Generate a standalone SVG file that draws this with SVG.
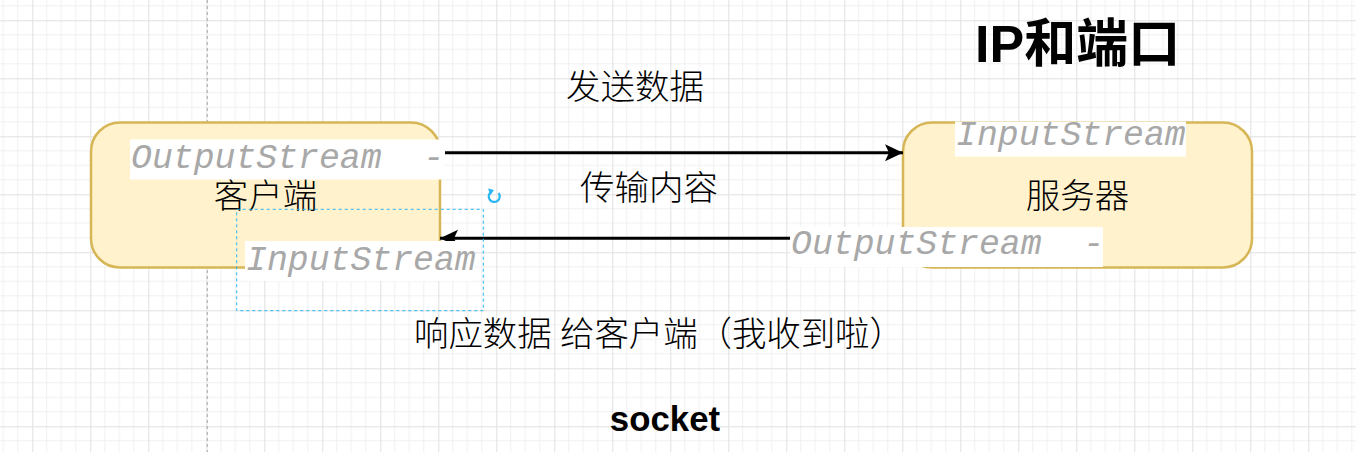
<svg xmlns="http://www.w3.org/2000/svg" width="1356" height="452" viewBox="0 0 1356 452">
<defs>
  <pattern id="grid" x="32.3" y="20.3" width="58" height="58" patternUnits="userSpaceOnUse">
    <path d="M14.5 0V58M29 0V58M43.5 0V58M0 14.5H58M0 29H58M0 43.5H58" stroke="#f0f0f0" stroke-width="1" fill="none"/>
    <path d="M0.5 0V58M0 0.5H58" stroke="#e0e0e0" stroke-width="1" fill="none"/>
  </pattern>
  <marker id="arrow" viewBox="0 0 20 20" refX="19" refY="10" markerWidth="20" markerHeight="20" markerUnits="userSpaceOnUse" orient="auto">
    <path d="M19 10 L1 1.5 L5 10 L1 18.5 Z" fill="#000"/>
  </marker>
  <style>
    .box{fill:#fff2cc;stroke:#d6b656;stroke-width:2.5}
    .conn{stroke:#000;stroke-width:3;fill:none}
    .cjk{font-family:"Liberation Serif","Noto Sans CJK SC",serif;font-size:34.5px;font-weight:300;fill:#000;text-anchor:middle;dominant-baseline:central}
    .mono{font-family:"Liberation Mono","Courier New",monospace;font-style:italic;font-size:34.8px;fill:#a8a8a8}
    .bg{fill:#fff}
    .bold{font-family:"Liberation Sans","Noto Sans CJK SC",sans-serif;font-weight:bold;fill:#000}
  </style>
</defs>
<rect width="1356" height="452" fill="#fff"/>
<rect width="1356" height="452" fill="url(#grid)"/>
<line x1="207.3" y1="0" x2="207.3" y2="452" stroke="#aaa" stroke-width="1" stroke-dasharray="3 3"/>

<g id="client">
  <rect class="box" x="91" y="122.5" width="349" height="145" rx="29" ry="29"/>
  <text class="cjk" x="265.5" y="196">客户端</text>
</g>
<g id="server">
  <rect class="box" x="903" y="122.5" width="349" height="145" rx="29" ry="29"/>
  <text class="cjk" x="1077.5" y="196">服务器</text>
</g>

<g id="connectors">
  <line class="conn" x1="440" y1="152.7" x2="903" y2="152.7" marker-end="url(#arrow)"/>
  <line class="conn" x1="903" y1="238.3" x2="440" y2="238.3" marker-end="url(#arrow)"/>
</g>

<g id="client-output">
  <rect class="bg" x="130" y="139.5" width="315" height="40"/>
  <text class="mono" x="131" y="168" xml:space="preserve">OutputStream  -</text>
</g>
<g id="client-input">
  <rect class="bg" x="245" y="241" width="230" height="40"/>
  <text class="mono" x="246" y="270">InputStream</text>
</g>
<g id="server-input">
  <rect class="bg" x="955" y="121.5" width="231" height="35"/>
  <text class="mono" x="956" y="145">InputStream</text>
</g>
<g id="server-output">
  <rect class="bg" x="790" y="227" width="313" height="40"/>
  <text class="mono" x="791" y="253.5" xml:space="preserve">OutputStream  -</text>
</g>

<g id="labels">
  <text class="cjk" x="635" y="87">发送数据</text>
  <text class="cjk" x="649" y="188">传输内容</text>
  <text class="cjk" x="659" y="334" textLength="490" lengthAdjust="spacing">响应数据 给客户端（我收到啦）</text>
  <text class="bold" x="975" y="61.5" font-size="52">IP和端口</text>
  <text class="bold" x="665" y="431" font-size="34.8" text-anchor="middle">socket</text>
</g>

<g id="selection">
  <rect x="236.7" y="209.3" width="246.6" height="101.4" fill="none" stroke="#29b6f2" stroke-width="1" stroke-dasharray="3 3"/>
  <path d="M498.5 193 A5.5 5.5 0 1 1 491 192" fill="none" stroke="#29b6f2" stroke-width="2.2"/>
  <path d="M488 188.5 L494 190 L490.5 195 Z" fill="#29b6f2"/>
</g>
</svg>
